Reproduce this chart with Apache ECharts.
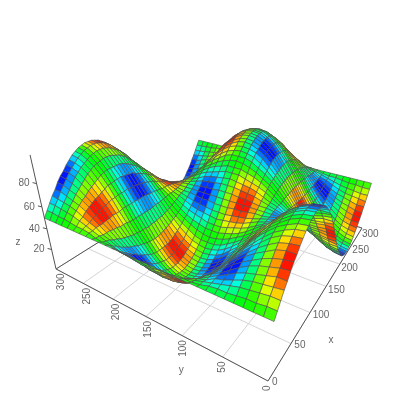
<!DOCTYPE html>
<html><head><meta charset="utf-8"><style>html,body{margin:0;background:#fff}#c{width:400px;height:400px}</style>
<script src="https://cdn.jsdelivr.net/npm/echarts@6/dist/echarts.min.js"></script></head><body><div id="c"></div>
<script>
const xTicks=[0,50,100,150,200,250,300];
const yTicks=[0,50,100,150,200,250,300];
const zTicks=[20,40,60,80];
const zAxisTop=103;
const xStep=5,yStep=10;
// height readings, one row per x column (x step 5), each row across y (y step 10)
const z0=[50,50,50,50,50,50,50,50,50,50,50,50,50,50,50,50,50,50,50,50,50,50,50,50,50,50,50,50,50,50,50];
const p1=[55,55,54,54,53,52,52,51,49,48,48,47,46,46,45,45,45,46,46,47,48,48,49,51,52,52,53,54,54,55,55];
const n1=[45,45,46,46,47,48,48,49,51,52,52,53,54,54,55,55,55,54,54,53,52,52,51,49,48,48,47,46,46,45,45];
const p2=[60,60,59,58,57,55,53,51,49,47,45,43,42,41,40,40,40,41,42,43,45,47,49,51,53,55,57,58,59,60,60];
const n2=[40,40,41,42,43,45,47,49,51,53,55,57,58,59,60,60,60,59,58,57,55,53,51,49,47,45,43,42,41,40,40];
const p3=[65,64,63,62,60,57,54,52,48,46,43,40,38,37,36,35,36,37,38,40,43,46,48,52,54,57,60,62,63,64,65];
const n3=[35,36,37,38,40,43,46,48,52,54,57,60,62,63,64,65,64,63,62,60,57,54,52,48,46,43,40,38,37,36,35];
const p4=[69,69,67,65,63,60,56,52,48,44,40,37,35,33,31,31,31,33,35,37,40,44,48,52,56,60,63,65,67,69,69];
const n4=[31,31,33,35,37,40,44,48,52,56,60,63,65,67,69,69,69,67,65,63,60,56,52,48,44,40,37,35,33,31,31];
const p5=[74,73,71,69,66,62,57,52,48,43,38,34,31,29,27,27,27,29,31,34,38,43,48,52,57,62,66,69,71,73,74];
const n5=[26,27,29,31,34,38,43,48,52,57,62,66,69,71,73,73,73,71,69,66,62,57,52,48,43,38,34,31,29,27,26];
const p6=[78,77,75,72,68,64,59,53,47,41,36,32,28,25,23,22,23,25,28,32,36,41,47,53,59,64,68,72,75,77,78];
const n6=[22,23,25,28,32,36,41,47,53,59,64,68,72,75,77,78,77,75,72,68,64,59,53,47,41,36,32,28,25,23,22];
const p7=[81,81,79,75,71,66,60,53,47,40,34,29,25,21,19,19,19,21,25,29,34,40,47,53,60,66,71,75,79,81,81];
const n7=[19,19,21,25,29,34,40,47,53,60,66,71,75,79,81,81,81,79,75,71,66,60,53,47,40,34,29,25,21,19,19];
const p8=[85,84,82,78,73,67,61,54,46,39,33,27,22,18,16,15,16,18,22,27,33,39,46,54,61,67,73,78,82,84,85];
const n8=[15,16,18,22,27,33,39,46,54,61,67,73,78,82,84,85,84,82,78,73,67,61,54,46,39,33,27,22,18,16,15];
const p9=[88,87,85,81,75,69,62,54,46,38,31,25,19,15,13,12,13,15,19,25,31,38,46,54,62,69,75,81,85,87,88];
const n9=[12,13,15,19,25,31,38,46,54,62,69,75,81,85,87,88,87,85,81,75,69,62,54,46,38,31,25,19,15,13,12];
const p10=[91,90,87,83,77,70,63,54,46,37,30,23,17,13,10,9,10,13,17,23,30,37,46,54,63,70,77,83,87,90,91];
const n10=[9,10,13,17,23,30,37,46,54,63,70,77,83,87,90,91,90,87,83,77,70,63,54,46,37,30,23,17,13,10,9];
const p11=[93,92,89,85,79,72,63,55,45,37,29,21,15,11,8,7,8,11,15,21,29,37,45,55,63,72,79,85,89,92,93];
const n11=[7,8,11,15,21,29,37,45,55,63,71,79,85,89,92,93,92,89,85,79,71,63,55,45,37,29,21,15,11,8,7];
const p12=[95,94,91,86,80,72,64,55,45,36,28,20,14,9,6,5,6,9,14,20,28,36,45,55,64,72,80,86,91,94,95];
const n12=[5,6,9,14,20,28,36,45,55,64,72,80,86,91,94,95,94,91,86,80,72,64,55,45,36,28,20,14,9,6,5];
const p13=[96,95,92,87,81,73,64,55,45,36,27,19,13,8,5,4,5,8,13,19,27,36,45,55,64,73,81,87,92,95,96];
const n13=[4,5,8,13,19,27,36,45,55,64,73,81,87,92,95,96,95,92,87,81,73,64,55,45,36,27,19,13,8,5,4];
const p14=[97,96,93,88,81,73,64,55,45,36,27,19,12,7,4,3,4,7,12,19,27,36,45,55,64,73,81,88,93,96,97];
const n14=[3,4,7,12,19,27,36,45,55,64,73,81,88,93,96,97,96,93,88,81,73,64,55,45,36,27,19,12,7,4,3];
const p15=[97,96,93,88,81,74,65,55,45,35,26,19,12,7,4,3,4,7,12,19,26,35,45,55,65,74,81,88,93,96,97];
const n15=[3,4,7,12,19,26,35,45,55,65,74,81,88,93,96,97,96,93,88,81,74,65,55,45,35,26,19,12,7,4,3];
const zRows=[z0,p1,p2,p3,p4,p5,p6,p7,p8,p9,p10,p11,p12,p13,p14,p15,p14,p13,p12,p11,p10,p9,p8,p7,p6,p5,p4,p3,p2,p1,
 z0,n1,n2,n3,n4,n5,n6,n7,n8,n9,n10,n11,n12,n13,n14,n15,n14,n13,n12,n11,n10,n9,n8,n7,n6,n5,n4,n3,n2,n1,z0];
// colour readings per cell, -100 deep blue .. 100 red
const a1=[13,9,3,-3,-9,-13,-13,-9,-3,3,9,13,13,9,3,-3,-9,-13,-13,-9,-3,3,9,13,13,9,3,-3,-9,-13];
const a2=[37,27,10,-10,-27,-37,-37,-27,-10,10,27,37,37,27,10,-10,-27,-37,-37,-27,-10,10,27,37,37,27,10,-10,-27,-37];
const a3=[59,43,16,-16,-43,-59,-59,-43,-16,16,43,59,59,43,16,-16,-43,-59,-59,-43,-16,16,43,59,59,43,16,-16,-43,-59];
const a4=[77,56,21,-21,-56,-77,-77,-56,-21,21,56,77,77,56,21,-21,-56,-77,-77,-56,-21,21,56,77,77,56,21,-21,-56,-77];
const a5=[89,65,24,-24,-65,-89,-89,-65,-24,24,65,89,89,65,24,-24,-65,-89,-89,-65,-24,24,65,89,89,65,24,-24,-65,-89];
const a6=[96,70,26,-26,-70,-96,-96,-70,-26,26,70,96,96,70,26,-26,-70,-96,-96,-70,-26,26,70,96,96,70,26,-26,-70,-96];
const b1=[-13,-9,-3,3,9,13,13,9,3,-3,-9,-13,-13,-9,-3,3,9,13,13,9,3,-3,-9,-13,-13,-9,-3,3,9,13];
const b2=[-37,-27,-10,10,27,37,37,27,10,-10,-27,-37,-37,-27,-10,10,27,37,37,27,10,-10,-27,-37,-37,-27,-10,10,27,37];
const b3=[-59,-43,-16,16,43,59,59,43,16,-16,-43,-59,-59,-43,-16,16,43,59,59,43,16,-16,-43,-59,-59,-43,-16,16,43,59];
const b4=[-77,-56,-21,21,56,77,77,56,21,-21,-56,-77,-77,-56,-21,21,56,77,77,56,21,-21,-56,-77,-77,-56,-21,21,56,77];
const b5=[-89,-65,-24,24,65,89,89,65,24,-24,-65,-89,-89,-65,-24,24,65,89,89,65,24,-24,-65,-89,-89,-65,-24,24,65,89];
const b6=[-96,-70,-26,26,70,96,96,70,26,-26,-70,-96,-96,-70,-26,26,70,96,96,70,26,-26,-70,-96,-96,-70,-26,26,70,96];
const colourRows=[a1,a2,a3,a4,a5,a6,a6,a5,a4,a3,a2,a1,b1,b2,b3,b4,b5,b6,b6,b5,b4,b3,b2,b1,
 a1,a2,a3,a4,a5,a6,a6,a5,a4,a3,a2,a1,b1,b2,b3,b4,b5,b6,b6,b5,b4,b3,b2,b1,
 a1,a2,a3,a4,a5,a6,a6,a5,a4,a3,a2,a1];

// camera: 3x4 projective matrix on (x/300, y/300, z/50, 1)
const cam={ax:318.4,ay:-191.8,az:-20,a0:268,bx:-11.6,by:-15.2,bz:-90,b0:381,dx:.62,dy:.36,dz:-.095};
function project(x,y,z){const u=x/300,v=y/300,w=z/50,d=1+cam.dx*u+cam.dy*v+cam.dz*w;
  return [(cam.ax*u+cam.ay*v+cam.az*w+cam.a0)/d,(cam.bx*u+cam.by*v+cam.bz*w+cam.b0)/d];}

const cells=[];
for(let i=colourRows.length-1;i>=0;i--)for(let j=colourRows[i].length-1;j>=0;j--){
  cells.push([i*xStep,j*yStep,(i+1)*xStep,(j+1)*yStep,zRows[i][j],zRows[i][j+1],zRows[i+1][j+1],zRows[i+1][j],colourRows[i][j]]);
}
const floorLines=[];
xTicks.forEach(t=>floorLines.push([t,0,t,300]));
yTicks.forEach(t=>floorLines.push([0,t,300,t]));
const axisLines=[[0,0,0,300,0,0],[0,0,0,0,300,0],[0,300,0,0,300,zAxisTop],[0,300,0,300,300,0],[300,0,0,300,300,0]];
const GREY='#666',FONT='10px "Liberation Sans", Arial, sans-serif';
function txt(p,text,align,rot){return {type:'text',x:p[0],y:p[1],rotation:rot||0,silent:true,
  style:{text:String(text),fill:GREY,font:FONT,align:align,verticalAlign:'middle'}};}
const line=(a,b,stroke,w)=>({type:'line',shape:{x1:a[0],y1:a[1],x2:b[0],y2:b[1]},style:{stroke:stroke,lineWidth:w,fill:null}});

const chart=echarts.init(document.getElementById('c'),null,{renderer:'canvas',width:400,height:400});
chart.setOption({animation:false,backgroundColor:'#fff',
 visualMap:{show:false,type:'continuous',seriesIndex:5,dimension:8,min:-100,max:100,
   inRange:{color:['#0000ff','#00ffff','#00ff00','#ffff00','#ff0000']}},
 series:[
 {type:'custom',coordinateSystem:'none',silent:true,progressive:0,data:floorLines,z:1,
  renderItem:(p,api)=>line(project(api.value(0),api.value(1),0),project(api.value(2),api.value(3),0),'#d4d4d4',1)},
 {type:'custom',coordinateSystem:'none',silent:true,progressive:0,data:axisLines,z:2,
  renderItem:(p,api)=>line(project(api.value(0),api.value(1),api.value(2)),project(api.value(3),api.value(4),api.value(5)),'#555',1)},
 {type:'custom',coordinateSystem:'none',silent:true,progressive:0,data:xTicks,z:3,
  renderItem:(p,api)=>{const t=api.value(0),q=project(t,0,0),u=t/300;return txt([q[0]+4-4*u,q[1]+1+5*u],t,'left');}},
 {type:'custom',coordinateSystem:'none',silent:true,progressive:0,data:yTicks,z:3,
  renderItem:(p,api)=>{const t=api.value(0),q=project(0,t,0),v=t/300;return txt([q[0]-1+6*v,q[1]+4.5],t,'right',Math.PI/2);}},
 {type:'custom',coordinateSystem:'none',silent:true,progressive:0,data:zTicks,z:3,
  renderItem:(p,api)=>{const t=api.value(0),q=project(0,300,t);return {type:'group',children:[
     line(q,[q[0]-4,q[1]-1],'#555',1),txt([q[0]-7,q[1]],t,'right')]};}},
 {type:'custom',coordinateSystem:'none',silent:true,progressive:0,data:cells,z:4,
  dimensions:['x0','y0','x1','y1','z00','z01','z11','z10','colour'],
  renderItem:(p,api)=>{const x0=api.value(0),y0=api.value(1),x1=api.value(2),y1=api.value(3);
    return {type:'polygon',shape:{points:[project(x0,y0,api.value(4)),project(x0,y1,api.value(5)),project(x1,y1,api.value(6)),project(x1,y0,api.value(7))]},
      style:{fill:api.visual('color'),stroke:'rgba(80,80,80,0.9)',lineWidth:.7}};}},
 {type:'custom',coordinateSystem:'none',silent:true,data:[['x',75,0,30,13],['y',0,100,-1,35],['z',0,35,-30,8]],z:5,
  dimensions:[{name:'n',type:'ordinal'},'a','b','dx','dy'],
  renderItem:(p,api)=>{const i=p.dataIndex,q=i===0?project(75,0,0):i===1?project(0,100,0):project(0,300,35);
    return txt([q[0]+api.value(3),q[1]+api.value(4)],['x','y','z'][i],'center');}}
 ]});
</script></body></html>
